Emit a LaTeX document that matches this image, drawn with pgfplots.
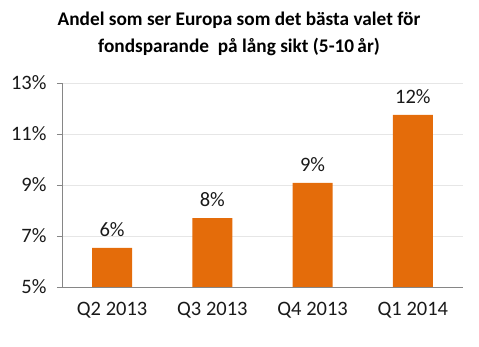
\documentclass[border=0pt]{standalone}
\usepackage{pgfplots}
\pgfplotsset{compat=1.18}
\usepackage{fontspec}
\setmainfont{Carlito}
\definecolor{barorange}{HTML}{E46C0A}
\definecolor{axgray}{HTML}{868686}
\definecolor{gridgray}{HTML}{E6E6E6}
\begin{document}
\begin{tikzpicture}[x=1pt,y=1pt]
\path[use as bounding box] (0,0) rectangle (479,347);
\node[font=\fontsize{19.3}{27}\selectfont\bfseries, align=center] at (239,313) {Andel som ser Europa som det bästa valet för\\fondsparande\ \ på lång sikt (5-10\,år)};
\begin{axis}[
  at={(62pt,60pt)}, anchor=south west,
  scale only axis, width=401pt, height=204pt,
  ymin=5, ymax=13, ytick={5,7,9,11,13},
  xmin=-0.5, xmax=3.5,
  xtick={0,1,2,3}, xticklabels={Q2 2013,Q3 2013,Q4 2013,Q1 2014},
  extra x ticks={-0.5,0.5,1.5,2.5,3.5}, extra x tick labels={},
  extra x tick style={major tick length=5pt, tick style={axgray, line width=0.8pt}, grid=none},
  axis lines*=left,
  axis line style={axgray, line width=0.8pt},
  x axis line style={-}, y axis line style={-},
  major x tick style={draw=none},
  ytick style={axgray, line width=0.8pt},
  tick align=outside, major tick length=5pt,
  ymajorgrids, grid style={gridgray, line width=0.6pt},
  yticklabel={\pgfmathprintnumber{\tick}\%},
  /pgf/number format/assume math mode=true,
  ticklabel style={font=\fontsize{20.5}{24}\selectfont, text=black!90},
  yticklabel style={xshift=-7pt},
  xticklabel style={yshift=-7pt},
  ybar, bar width=40pt,
  point meta=explicit symbolic,
  nodes near coords,
  nodes near coords style={font=\fontsize{20.5}{24}\selectfont, text=black!90, yshift=8pt},
  clip=false,
]
\addplot[fill=barorange, draw=none] coordinates {(0,6.53) [6\%] (1,7.70) [8\%] (2,9.08) [9\%] (3,11.75) [12\%]};
\end{axis}
\end{tikzpicture}
\end{document}
